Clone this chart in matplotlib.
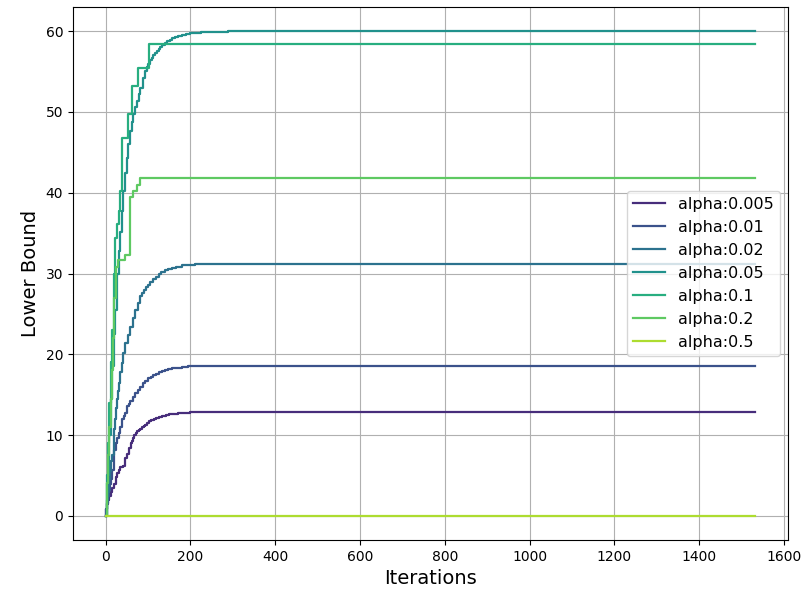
import numpy as np
import matplotlib
matplotlib.use("Agg")
import matplotlib.pyplot as plt

# Staircase breakpoints (iteration, lower bound) for each step size alpha
last_iter = 1533

labels = ["alpha:0.005", "alpha:0.01", "alpha:0.02", "alpha:0.05",
          "alpha:0.1", "alpha:0.2", "alpha:0.5"]

iters_005 = [0, 2, 4, 6, 8, 12, 16, 19, 24, 28, 31, 35, 42, 47, 51, 55, 59, 62, 65, 68, 71, 74, 78, 82, 86, 90, 94, 98,
             103, 108, 114, 120, 127, 134, 142, 150, 160, 172, 185, 200, 220, 250, last_iter]
vals_005 = [0, 0.8, 1.4, 2.0, 2.4, 3.0, 3.5, 3.9, 4.8, 5.3, 5.7, 6.0, 6.2, 7.2, 7.7, 8.4, 9.0, 9.3, 9.6, 10.0, 10.3, 10.45, 10.6, 10.8,
            10.95, 11.15, 11.3, 11.5, 11.7, 11.85, 12.0, 12.1, 12.25, 12.35, 12.45, 12.55, 12.63, 12.7, 12.76, 12.8, 12.84, 12.87, 12.87]

iters_01 = [0, 2, 4, 6, 8, 10, 12, 16, 20, 25, 28, 31, 35, 39, 43, 46, 51, 55, 58, 64, 70, 76, 82, 88, 94, 101, 107, 113,
            119, 125, 133, 140, 148, 156, 168, 180, 195, 215, 240, last_iter]
vals_01 = [0, 0.9, 1.6, 2.4, 3.2, 3.9, 4.5, 5.7, 8.1, 9.0, 9.6, 10.2, 11.0, 12.0, 12.3, 12.7, 13.6, 13.9, 14.2, 14.7, 15.2, 15.6,
           16.0, 16.4, 16.7, 17.0, 17.2, 17.45, 17.6, 17.75, 17.9, 18.0, 18.15, 18.25, 18.35, 18.43, 18.5, 18.54, 18.57, 18.57]

iters_02 = [0, 3, 5, 8, 10, 13, 15, 19, 21, 23, 25, 27, 29, 31, 35, 38, 42, 46, 52, 58, 64, 70, 76, 82, 86, 90, 95, 101,
            106, 112, 118, 125, 132, 140, 148, 156, 166, 180, 195, 210, 230, 260, last_iter]
vals_02 = [0, 2.0, 3.0, 4.6, 5.5, 6.8, 7.5, 9.0, 10.8, 12.0, 13.4, 14.5, 15.5, 16.4, 17.8, 18.9, 20.2, 21.4, 22.4, 23.4, 24.5,
           25.5, 26.4, 27.2, 27.6, 27.9, 28.3, 28.6, 28.95, 29.3, 29.6, 29.9, 30.15, 30.4, 30.55, 30.7, 30.85, 31.0, 31.08,
           31.13, 31.17, 31.2, 31.2]

iters_05 = [0, 4, 8, 12, 16, 20, 23, 27, 31, 35, 38, 42, 46, 50, 54, 58, 62, 66, 70, 74, 78, 82, 88, 93, 97, 101, 105,
            109, 113, 117, 121, 125, 129, 134, 140, 146, 152, 158, 165, 172, 180, 190, 200, 212, 225, 240, 260, 290, last_iter]
vals_05 = [0, 5.0, 10.0, 14.5, 18.5, 22.5, 25.5, 29.9, 32.8, 35.2, 37.8, 40.2, 42.5, 44.3, 46.0, 47.6, 48.7, 49.7, 50.6,
           51.4, 52.2, 53.0, 54.2, 55.1, 55.6, 56.0, 56.4, 56.7, 57.05, 57.35, 57.6, 57.85, 58.05, 58.3, 58.55, 58.75, 58.95,
           59.1, 59.25, 59.38, 59.5, 59.62, 59.72, 59.8, 59.87, 59.92, 59.96, 60.0, 60.0]

iters_1 = [0, 3, 6, 9, 12, 15, 19, 23, 27, 31, 35, 38.5, 54, 63, 76, 102, last_iter]
vals_1 = [0, 4.0, 9.0, 14.0, 19.0, 23.0, 29.9, 34.4, 36.1, 37.7, 40.2, 46.8, 49.7, 53.2, 55.5, 58.4, 58.4]

iters_2 = [0, 3, 6, 9, 12, 15, 18, 21, 24, 30, 46, 58, 66, 74, 82, last_iter]
vals_2 = [0, 4.0, 7.5, 11.0, 14.4, 18.0, 22.0, 27.0, 30.8, 31.7, 32.3, 39.5, 40.2, 41.0, 41.86, 41.86]

iters_5 = [0, last_iter]
vals_5 = [0, 0]

series = [(iters_005, vals_005), (iters_01, vals_01), (iters_02, vals_02),
          (iters_05, vals_05), (iters_1, vals_1), (iters_2, vals_2),
          (iters_5, vals_5)]

colors = plt.cm.viridis(np.linspace(0, 1, len(series) + 2)[1:-1])

fig = plt.figure(figsize=(8.06, 5.94), dpi=100)
ax = fig.add_axes([73 / 806, 1 - 540 / 594, (788 - 73) / 806, (540 - 7) / 594])

for (xs, ys), lab, col in zip(series, labels, colors):
    ax.step(xs, ys, where="post", color=col, label=lab, linewidth=1.6)

ax.grid(True)
ax.set_xlabel("Iterations", fontsize=14)
ax.set_ylabel("Lower Bound", fontsize=14)
ax.legend(loc="center right", fontsize=11.5)

fig.savefig("out.png", dpi=100)
